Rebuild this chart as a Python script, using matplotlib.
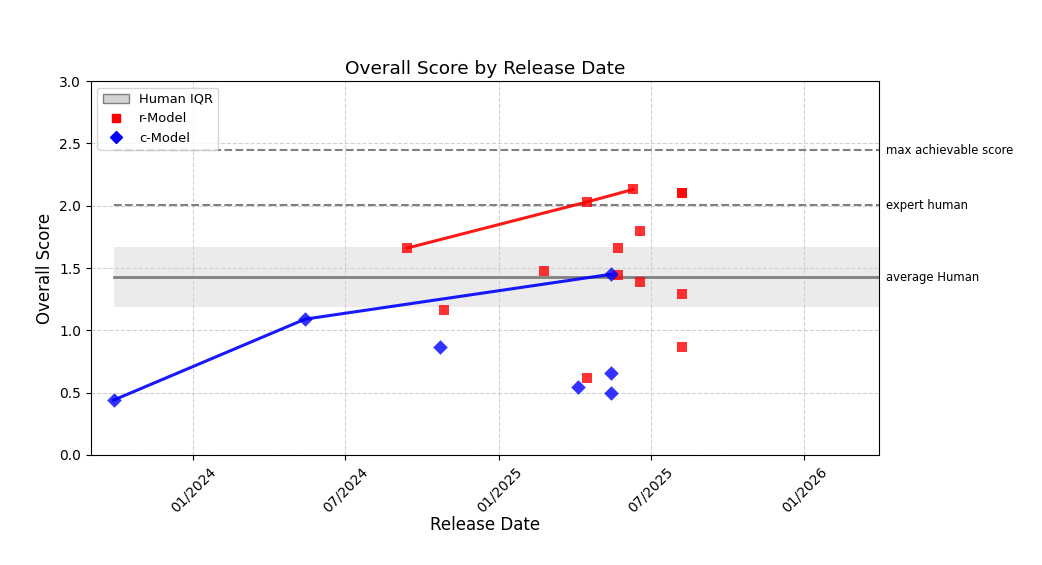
import matplotlib
matplotlib.use("Agg")
import matplotlib.pyplot as plt
import matplotlib.dates as mdates
from matplotlib.patches import Patch
from matplotlib.lines import Line2D
import pandas as pd

# ---- data ----
c_dates = ["2023-09-28", "2024-05-14", "2024-10-22", "2025-04-05",
           "2025-05-15", "2025-05-15", "2025-05-15"]
c_scores = [0.44, 1.09, 0.87, 0.545, 1.45, 0.66, 0.50]

r_dates = ["2024-09-13", "2024-10-27", "2025-02-24", "2025-04-16",
           "2025-04-16", "2025-05-23", "2025-05-23", "2025-06-10",
           "2025-06-18", "2025-06-18", "2025-08-08", "2025-08-08",
           "2025-08-08", "2025-08-08"]
r_scores = [1.66, 1.16, 1.475, 2.03, 0.62, 1.66, 1.445, 2.13,
            1.80, 1.39, 2.10, 2.10, 1.29, 0.87]

c_frontier_dates = ["2023-09-28", "2024-05-14", "2025-05-15"]
c_frontier_scores = [0.44, 1.09, 1.45]
r_frontier_dates = ["2024-09-13", "2025-04-16", "2025-06-10"]
r_frontier_scores = [1.66, 2.03, 2.13]

human_q1 = 1.19
human_q3 = 1.665
human_avg = 1.425
expert_human = 2.005
max_score = 2.445

ref_labels = ["max achievable score", "expert human", "average Human"]
ref_values = [max_score, expert_human, human_avg]

x_start = "2023-09-28"
x_end = "2026-04-30"
xlim = ("2023-09-01", "2026-03-31")

# ---- plot ----
fig = plt.figure(figsize=(10.42, 5.65), dpi=100)
ax = fig.add_axes([0.0873, 0.1947, 0.7562, 0.6619])

xs = pd.to_datetime(x_start)
xe = pd.to_datetime(x_end)

ax.fill_between([xs, xe], human_q1, human_q3, color="#d3d3d3", alpha=0.45,
                linewidth=0, zorder=1)
ax.plot([xs, xe], [human_avg, human_avg], color="gray", linewidth=2, zorder=2)
ax.plot([xs, xe], [expert_human, expert_human], color="gray", linestyle="--",
        linewidth=1.5, zorder=2)
ax.plot([xs, xe], [max_score, max_score], color="gray", linestyle="--",
        linewidth=1.5, zorder=2)

ax.plot(pd.to_datetime(r_frontier_dates), r_frontier_scores, color="red",
        linewidth=2.2, alpha=0.9, zorder=3)
ax.plot(pd.to_datetime(c_frontier_dates), c_frontier_scores, color="blue",
        linewidth=2.2, alpha=0.9, zorder=3)

ax.scatter(pd.to_datetime(r_dates), r_scores, marker="s", s=55, color="red",
           alpha=0.8, linewidths=0, zorder=4)
ax.scatter(pd.to_datetime(c_dates), c_scores, marker="D", s=55, color="blue",
           alpha=0.8, linewidths=0, zorder=4)

ax.set_xlim(pd.to_datetime(xlim[0]), pd.to_datetime(xlim[1]))
ax.set_ylim(0, 3.0)
ax.set_yticks([0, 0.5, 1.0, 1.5, 2.0, 2.5, 3.0])
ax.xaxis.set_major_locator(mdates.MonthLocator(bymonth=[1, 7]))
ax.xaxis.set_major_formatter(mdates.DateFormatter("%m/%Y"))
plt.setp(ax.get_xticklabels(), rotation=45, ha="center")
ax.tick_params(labelsize=10)

ax.grid(True, linestyle="--", color="#cccccc", linewidth=0.8, alpha=0.9)
ax.set_axisbelow(True)

ax.set_title("Overall Score by Release Date", fontsize=13.3, pad=5)
ax.set_xlabel("Release Date", fontsize=12, labelpad=0.5)
ax.set_ylabel("Overall Score", fontsize=12)

for lab, val in zip(ref_labels, ref_values):
    ax.annotate(lab, xy=(1.0, val), xycoords=("axes fraction", "data"),
                xytext=(5, 0), textcoords="offset points",
                va="center", ha="left", fontsize=8.4, annotation_clip=False)

handles = [
    Patch(facecolor="#d3d3d3", edgecolor="gray", label="Human IQR"),
    Line2D([], [], marker="s", linestyle="none", color="red", markersize=6,
           label="r-Model"),
    Line2D([], [], marker="D", linestyle="none", color="blue", markersize=6,
           label="c-Model"),
]
ax.legend(handles=handles, loc="upper left", fontsize=9.4)

fig.savefig("out.png", dpi=100)
